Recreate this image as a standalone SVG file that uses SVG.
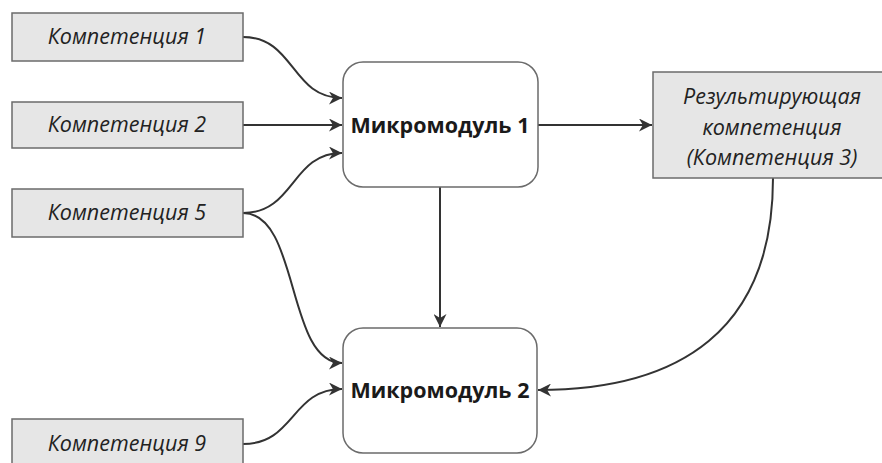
<svg xmlns="http://www.w3.org/2000/svg" width="882" height="463" viewBox="0 0 882 463">
  <style>
    .comp { fill: #e6e6e6; stroke: #6b6b6b; stroke-width: 1.5; }
    .mod { fill: #ffffff; stroke: #6b6b6b; stroke-width: 1.5; }
    .lbl { font-family: "Open Sans", "Noto Sans", sans-serif; font-style: italic; font-size: 21.5px; fill: #222; text-anchor: middle; }
    .bold { font-family: "Open Sans", "Noto Sans", sans-serif; font-weight: bold; font-size: 21.5px; fill: #1a1a1a; text-anchor: middle; }
    .link { fill: none; stroke: #333; stroke-width: 2; marker-end: url(#arrow); }
  </style>
  <defs>
    <!-- filled arrowhead with a slight notch at the back -->
    <marker id="arrow" viewBox="0 0 10 10" refX="10" refY="5" markerWidth="6.5" markerHeight="6.5" markerUnits="strokeWidth" orient="auto">
      <path d="M0,0 L10,5 L0,10 L3,5 Z" fill="#333"/>
    </marker>
  </defs>

  <rect width="882" height="463" fill="#ffffff"/>

  <g id="connectors">
    <path class="link" d="M243,37 C295,37 291,98 342,98"/>
    <path class="link" d="M243,125 L342,125"/>
    <path class="link" d="M243,213 C295,213 291,153 342,153"/>
    <path class="link" d="M243,213 C300,213 286,363 342,363"/>
    <path class="link" d="M243,444 C295,444 291,389 342,389"/>
    <path class="link" d="M538,125 L652,125"/>
    <path class="link" d="M440,187 L440,327"/>
    <path class="link" d="M773,178 C773,330 680,390 538,390"/>
  </g>

  <g id="comp1">
    <rect class="comp" x="12" y="13" width="231" height="48"/>
    <text class="lbl" x="127" y="44">Компетенция 1</text>
  </g>
  <g id="comp2">
    <rect class="comp" x="12" y="102" width="231" height="46"/>
    <text class="lbl" x="127" y="132">Компетенция 2</text>
  </g>
  <g id="comp5">
    <rect class="comp" x="12" y="189" width="231" height="48"/>
    <text class="lbl" x="127" y="220">Компетенция 5</text>
  </g>
  <g id="comp9">
    <rect class="comp" x="12" y="419" width="231" height="60"/>
    <text class="lbl" x="127" y="451">Компетенция 9</text>
  </g>

  <g id="module1">
    <rect class="mod" x="343" y="62" width="195" height="125" rx="20"/>
    <text class="bold" x="440" y="133">Микромодуль 1</text>
  </g>
  <g id="module2">
    <rect class="mod" x="343" y="328" width="194" height="125" rx="20"/>
    <text class="bold" x="440" y="398">Микромодуль 2</text>
  </g>

  <g id="result">
    <rect class="comp" x="653" y="72" width="240" height="106"/>
    <text class="lbl" x="772" y="104">Результирующая</text>
    <text class="lbl" x="772" y="135">компетенция</text>
    <text class="lbl" x="772" y="165">(Компетенция 3)</text>
  </g>
</svg>
